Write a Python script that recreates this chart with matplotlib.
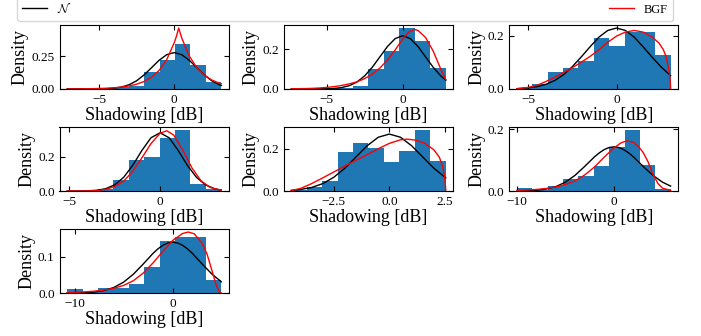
import matplotlib
matplotlib.use('Agg')
import matplotlib.pyplot as plt
from matplotlib.ticker import MaxNLocator
import numpy as np

plt.rcParams['font.family'] = 'serif'
plt.rcParams['font.serif'] = ['Liberation Serif']
plt.rcParams['mathtext.fontset'] = 'cm'

# ---- panel 1
range1 = (-7.11, 3.13)
hist1 = [0.005, 0.0, 0.0, 0.018, 0.02, 0.128, 0.217, 0.344, 0.18, 0.054]
norm_x1 = [-7.11, -6.5, -6, -5.5, -5, -4.5, -4, -3.5, -3, -2.5, -2, -1.5, -1, -0.5, 0, 0.5, 1, 1.5, 2, 2.5, 3, 3.13]
norm_y1 = [0.0, 0.0, 0.0, 0.0002, 0.0007, 0.0022, 0.0062, 0.015, 0.032, 0.062, 0.107, 0.162, 0.218, 0.260, 0.276,
           0.260, 0.218, 0.162, 0.107, 0.062, 0.032, 0.027]
bgf_x1 = [-7.11, -6.5, -6, -5.5, -5, -4.5, -4, -3.5, -3, -2.5, -2, -1.5, -1, -0.5, 0, 0.15, 0.3, 0.5, 1, 1.5, 2, 2.5, 3, 3.13]
bgf_y1 = [0.0006, 0.001, 0.0015, 0.0024, 0.0037, 0.0059, 0.0092, 0.0146, 0.023, 0.036, 0.057, 0.090, 0.141, 0.222,
          0.350, 0.40, 0.462, 0.387, 0.250, 0.162, 0.105, 0.068, 0.044, 0.040]

# ---- panel 2
range2 = (-7.33, 2.83)
hist2 = [0.003, 0.003, 0.003, 0.005, 0.017, 0.10, 0.19, 0.305, 0.24, 0.105]
norm_x2 = [-7.33, -6.5, -6, -5.5, -5, -4.5, -4, -3.5, -3, -2.5, -2, -1.5, -1, -0.5, 0, 0.5, 1, 1.5, 2, 2.5, 2.83]
norm_y2 = [0.0, 0.0, 0.0001, 0.0003, 0.001, 0.0028, 0.0074, 0.0171, 0.0355, 0.0657, 0.109, 0.161, 0.213, 0.252,
           0.267, 0.252, 0.213, 0.161, 0.109, 0.0657, 0.044]
bgf_x2 = [-7.33, -6.5, -6, -5.5, -5, -4.5, -4, -3.5, -3, -2.5, -2, -1.5, -1, -0.5, 0, 0.4, 0.75, 1.0, 1.5, 2.0, 2.5, 2.83]
bgf_y2 = [0.001, 0.002, 0.003, 0.005, 0.008, 0.012, 0.018, 0.026, 0.036, 0.052, 0.075, 0.105, 0.145, 0.195, 0.250,
          0.285, 0.298, 0.293, 0.258, 0.190, 0.100, 0.047]

# ---- panel 3
range3 = (-5.64, 3.06)
hist3 = [0.004, 0.0175, 0.065, 0.08, 0.104, 0.189, 0.16, 0.215, 0.215, 0.126]
norm_x3 = [-5.64, -5, -4.5, -4, -3.5, -3, -2.5, -2, -1.5, -1, -0.5, 0, 0.5, 1, 1.5, 2, 2.5, 3.06]
norm_y3 = [0.0014, 0.0041, 0.0088, 0.0175, 0.0318, 0.0538, 0.084, 0.120, 0.158, 0.194, 0.219, 0.228, 0.219, 0.194,
           0.158, 0.120, 0.084, 0.050]
bgf_x3 = [-5.64, -5, -4.5, -4, -3.5, -3, -2.5, -2, -1.5, -1, -0.5, 0, 0.5, 1.0, 1.5, 2.0, 2.4, 2.64, 2.8, 2.92, 3.0,
          3.04, 3.06]
bgf_y3 = [0.001, 0.006, 0.014, 0.028, 0.044, 0.062, 0.080, 0.100, 0.122, 0.147, 0.175, 0.198, 0.213, 0.219, 0.213,
          0.195, 0.172, 0.148, 0.122, 0.085, 0.055, 0.030, 0.0]

# ---- panel 4
range4 = (-5.11, 3.37)
hist4 = [0.002, 0.002, 0.014, 0.063, 0.178, 0.2, 0.31, 0.355, 0.041, 0.01]
norm_x4 = [-5.11, -4.5, -4, -3.5, -3, -2.5, -2, -1.5, -1, -0.5, 0, 0.5, 1, 1.5, 2, 2.5, 3, 3.37]
norm_y4 = [0.0, 0.0002, 0.001, 0.0041, 0.0131, 0.0356, 0.080, 0.150, 0.236, 0.310, 0.339, 0.310, 0.236, 0.150,
           0.080, 0.0356, 0.0131, 0.0056]
bgf_x4 = [-5.11, -4.5, -4, -3.5, -3, -2.5, -2, -1.5, -1, -0.5, 0, 0.37, 0.75, 1.25, 1.75, 2.25, 2.75, 3.37]
bgf_y4 = [0.0, 0.0001, 0.0005, 0.002, 0.009, 0.026, 0.058, 0.115, 0.193, 0.276, 0.336, 0.351, 0.326, 0.238, 0.135,
          0.060, 0.021, 0.004]

# ---- panel 5
range5 = (-4.42, 2.54)
hist5 = [0.005, 0.018, 0.048, 0.184, 0.229, 0.205, 0.136, 0.187, 0.288, 0.141]
norm_x5 = [-4.42, -4, -3.5, -3, -2.5, -2, -1.5, -1, -0.5, 0, 0.5, 1, 1.5, 2, 2.54]
norm_y5 = [0.0032, 0.0071, 0.0167, 0.0348, 0.065, 0.108, 0.161, 0.214, 0.254, 0.269, 0.254, 0.214, 0.161, 0.108, 0.062]
bgf_x5 = [-4.42, -4, -3.5, -3, -2.5, -2, -1.5, -1, -0.5, 0, 0.5, 0.8, 1.2, 1.6, 2.0, 2.25, 2.4, 2.5, 2.54]
bgf_y5 = [0.002, 0.012, 0.035, 0.062, 0.090, 0.118, 0.146, 0.172, 0.200, 0.225, 0.242, 0.245, 0.240, 0.225, 0.195,
          0.160, 0.115, 0.060, 0.0]

# ---- panel 6
range6 = (-9.96, 5.82)
hist6 = [0.0106, 0.002, 0.015, 0.040, 0.049, 0.080, 0.144, 0.198, 0.085, 0.005]
norm_x6 = [-9.96, -9, -8, -7, -6, -5, -4, -3, -2, -1.5, -1, -0.5, 0, 0.5, 1, 1.5, 2, 3, 4, 5, 5.82]
norm_y6 = [0.0002, 0.0007, 0.0022, 0.006, 0.0138, 0.0284, 0.0508, 0.080, 0.111, 0.124, 0.1346, 0.1413, 0.1436,
           0.1413, 0.1346, 0.124, 0.111, 0.080, 0.0508, 0.0284, 0.0159]
bgf_x6 = [-9.96, -9, -8, -7, -6, -5, -4, -3, -2, -1, 0, 0.7, 1.3, 2, 2.5, 3, 3.5, 4, 4.5, 5, 5.82]
bgf_y6 = [0.002, 0.003, 0.005, 0.008, 0.013, 0.021, 0.033, 0.052, 0.078, 0.110, 0.140, 0.156, 0.163, 0.158, 0.145,
          0.125, 0.095, 0.055, 0.025, 0.009, 0.002]

# ---- panel 7
range7 = (-10.75, 4.95)
hist7 = [0.0102, 0.003, 0.015, 0.015, 0.024, 0.072, 0.1435, 0.155, 0.155, 0.035]
norm_x7 = [-10.75, -10, -9, -8, -7, -6, -5, -4, -3, -2, -1.5, -1, -0.5, 0, 0.5, 1, 1.5, 2, 3, 4, 4.95]
norm_y7 = [0.0001, 0.0003, 0.0009, 0.0027, 0.0068, 0.0152, 0.030, 0.052, 0.080, 0.1094, 0.1218, 0.1316, 0.1379,
           0.140, 0.1379, 0.1316, 0.1218, 0.1094, 0.080, 0.052, 0.0309]
bgf_x7 = [-10.75, -10, -9, -8, -7, -6, -5, -4, -3, -2, -1, 0, 1, 1.6, 2.2, 3, 3.5, 4, 4.4, 4.7, 4.95]
bgf_y7 = [0.001, 0.0015, 0.003, 0.005, 0.008, 0.013, 0.021, 0.034, 0.055, 0.083, 0.115, 0.145, 0.164, 0.168, 0.163,
          0.137, 0.107, 0.062, 0.025, 0.006, 0.0]

panels = [
    (range1, hist1, norm_x1, norm_y1, bgf_x1, bgf_y1),
    (range2, hist2, norm_x2, norm_y2, bgf_x2, bgf_y2),
    (range3, hist3, norm_x3, norm_y3, bgf_x3, bgf_y3),
    (range4, hist4, norm_x4, norm_y4, bgf_x4, bgf_y4),
    (range5, hist5, norm_x5, norm_y5, bgf_x5, bgf_y5),
    (range6, hist6, norm_x6, norm_y6, bgf_x6, bgf_y6),
    (range7, hist7, norm_x7, norm_y7, bgf_x7, bgf_y7),
]

W, H = 701, 336
fig = plt.figure(figsize=(W / 100, H / 100), dpi=100)

# axes boxes in pixels (left, width) per column and bottom per row
col_left = [59.5, 283.5, 509.3]
col_width = [169.5, 170.0, 169.0]
row_bottom = [89, 191, 293]
ax_h = 64
nice_steps = [1, 2, 2.5, 5, 10]

for i, (rng, heights, nx, ny, bx, by) in enumerate(panels):
    r, c = divmod(i, 3)
    ax = fig.add_axes([col_left[c] / W, 1 - row_bottom[r] / H, col_width[c] / W, ax_h / H])
    edges = np.linspace(rng[0], rng[1], len(heights) + 1)
    ax.hist(edges[:-1], bins=edges, weights=heights, color='#1f77b4')
    ax.plot(nx, ny, color='black', lw=1.0, label=r'$\mathcal{N}$')
    ax.plot(bx, by, color='red', lw=1.0, label='BGF')
    ax.xaxis.set_major_locator(MaxNLocator(3, steps=nice_steps))
    ax.yaxis.set_major_locator(MaxNLocator(2, steps=nice_steps))
    ax.tick_params(direction='in', top=True, right=True, labelsize=9.5)
    ax.set_xlabel('Shadowing [dB]', fontsize=13, labelpad=1)
    ax.set_ylabel('Density', fontsize=13, labelpad=2)
    if i == 0:
        handles, labels = ax.get_legend_handles_labels()

fig.legend(handles, labels, loc='lower left', ncol=2, mode='expand', fontsize=9,
           bbox_to_anchor=(17 / W, 1 - 20.7 / H, 656 / W, 0.1), borderaxespad=0)

fig.savefig('out.png', dpi=100)
